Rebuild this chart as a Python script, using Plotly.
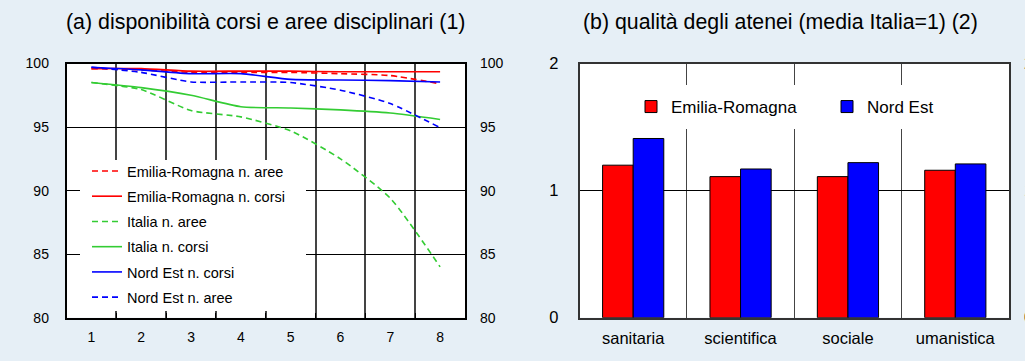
import plotly.graph_objects as go

# ---- data: chart (a)
steps = ["1", "2", "3", "4", "5", "6", "7", "8"]
er_aree = [99.6, 99.5, 99.3, 99.3, 99.3, 99.2, 99.05, 98.4]
er_corsi = [99.6, 99.6, 99.4, 99.4, 99.4, 99.35, 99.35, 99.35]
it_aree = [98.5, 97.95, 96.3, 95.8, 94.7, 92.5, 89.4, 84.0]
it_corsi = [98.5, 98.1, 97.5, 96.6, 96.5, 96.35, 96.1, 95.6]
ne_corsi = [99.7, 99.5, 99.2, 99.2, 98.75, 98.7, 98.65, 98.55]
ne_aree = [99.7, 99.3, 98.55, 98.55, 98.5, 97.9, 96.85, 94.95]

# ---- data: chart (b)
aree = ["sanitaria", "scientifica", "sociale", "umanistica"]
qual_er = [1.20, 1.11, 1.11, 1.16]
qual_ne = [1.41, 1.17, 1.22, 1.21]

yticks_a = [80, 85, 90, 95, 100]
yticks_b = [0, 1, 2]

RED = "#ff0000"
BLUE = "#0000ff"
GREEN = "#33cc33"
BG = "#e6eff6"
FONT = "Liberation Sans, Arial, sans-serif"
W, H = 1025, 361

def px_x(p):
    return p / W

def px_y(p):
    return 1 - p / H

fig = go.Figure()

series = [
    ("Emilia-Romagna n. aree", er_aree, RED, "6px,4px"),
    ("Emilia-Romagna n. corsi", er_corsi, RED, "solid"),
    ("Italia n. aree", it_aree, GREEN, "6px,4px"),
    ("Italia n. corsi", it_corsi, GREEN, "solid"),
    ("Nord Est n. corsi", ne_corsi, BLUE, "solid"),
    ("Nord Est n. aree", ne_aree, BLUE, "6px,4px"),
]
for i, (name, vals, col, dash) in enumerate(series):
    fig.add_trace(go.Scatter(
        x=steps, y=vals, name=name, mode="lines",
        line=dict(color=col, width=1.6, dash=dash, shape="spline", smoothing=0.6),
        xaxis="x", yaxis="y", legend="legend", legendgroup=f"g{i}",
    ))
# invisible trace to carry the right-hand axis of (a)
fig.add_trace(go.Scatter(x=steps, y=er_corsi, mode="lines", line=dict(width=0),
                         opacity=0, showlegend=False, hoverinfo="skip",
                         xaxis="x", yaxis="y2"))

fig.add_trace(go.Bar(x=aree, y=qual_er, name="Emilia-Romagna",
                     marker=dict(color=RED, line=dict(color="#000", width=1)),
                     xaxis="x3", yaxis="y3", legend="legend2"))
fig.add_trace(go.Bar(x=aree, y=qual_ne, name="Nord Est",
                     marker=dict(color=BLUE, line=dict(color="#000", width=1)),
                     xaxis="x3", yaxis="y3", legend="legend3"))
fig.add_trace(go.Scatter(x=aree, y=qual_er, mode="markers", marker=dict(opacity=0),
                         showlegend=False, hoverinfo="skip",
                         xaxis="x3", yaxis="y4"))

ydom = [px_y(317.7), px_y(63.5)]
tick_a = dict(family=FONT, size=14, color="#000")
tick_b = dict(family=FONT, size=16.5, color="#000")

def white_box(x0, x1, y0, y1):
    return dict(type="rect", xref="paper", yref="paper", layer="above",
                x0=px_x(x0), x1=px_x(x1), y0=px_y(y1), y1=px_y(y0),
                fillcolor="#ffffff", line=dict(width=0))

fig.update_layout(
    width=W, height=H,
    margin=dict(l=0, r=0, t=0, b=0, autoexpand=False),
    paper_bgcolor=BG, plot_bgcolor="#ffffff",
    font=dict(family=FONT, size=14, color="#000"),
    barmode="group", bargap=0.43, bargroupgap=0,
    showlegend=True,
    xaxis=dict(domain=[px_x(66.5), px_x(465)], type="category", range=[-0.5, 7.5],
               tickson="boundaries", ticks="inside", ticklen=5, tickcolor="#000",
               showgrid=True, gridcolor="#444", gridwidth=1.5,
               showline=True, linecolor="#000", linewidth=1.5, mirror=True,
               tickfont=tick_a, ticklabelstandoff=6, anchor="y", fixedrange=True),
    yaxis=dict(domain=ydom, range=[80, 100], tickvals=yticks_a,
               showgrid=True, gridcolor="#000", gridwidth=1,
               showline=True, linecolor="#000", linewidth=1.5, mirror=True,
               ticks="", tickfont=tick_a, ticklabelstandoff=13, anchor="x",
               zeroline=False),
    yaxis2=dict(domain=ydom, range=[80, 100], tickvals=yticks_a, overlaying="y",
                side="right", anchor="x", showgrid=False, ticks="",
                tickfont=tick_a, ticklabelstandoff=14, zeroline=False),
    xaxis3=dict(domain=[px_x(579.5), px_x(1009)], type="category", range=[-0.5, 3.5],
                tickson="boundaries", ticks="", showgrid=True, gridcolor="#444",
                gridwidth=1.2, showline=True, linecolor="#333", linewidth=1.5,
                mirror=True, tickfont=tick_b, ticklabelstandoff=5, anchor="y3"),
    yaxis3=dict(domain=ydom, range=[0, 2], tickvals=yticks_b,
                showgrid=True, gridcolor="#000", gridwidth=1,
                showline=True, linecolor="#333", linewidth=1.5, mirror=True,
                ticks="", tickfont=tick_b, ticklabelstandoff=16, anchor="x3",
                zeroline=False),
    yaxis4=dict(domain=ydom, range=[0, 2], tickvals=yticks_b, overlaying="y3",
                side="right", anchor="x3", showgrid=False, ticks="",
                tickfont=tick_b, ticklabelstandoff=14, zeroline=False),
    legend=dict(x=px_x(87), y=px_y(155), xanchor="left", yanchor="top",
                bgcolor="rgba(0,0,0,0)", borderwidth=0, tracegroupgap=3.4,
                traceorder="grouped", font=dict(family=FONT, size=14.5),
                itemclick=False),
    legend2=dict(x=px_x(631), y=px_y(89), xanchor="left", yanchor="top",
                 bgcolor="rgba(0,0,0,0)", borderwidth=0,
                 font=dict(family=FONT, size=17), itemclick=False),
    legend3=dict(x=px_x(827), y=px_y(89), xanchor="left", yanchor="top",
                 bgcolor="rgba(0,0,0,0)", borderwidth=0,
                 font=dict(family=FONT, size=17), itemclick=False),
    shapes=[white_box(80, 306, 160, 311), white_box(650, 912, 85, 129)],
    annotations=[
        dict(text="(a) disponibilità corsi e aree disciplinari (1)", x=px_x(265.5), y=px_y(22),
             xref="paper", yref="paper", showarrow=False, xanchor="center", yanchor="middle",
             font=dict(family=FONT, size=21.4, color="#000")),
        dict(text="(b) qualità degli atenei (media Italia=1) (2)", x=px_x(780), y=px_y(22),
             xref="paper", yref="paper", showarrow=False, xanchor="center", yanchor="middle",
             font=dict(family=FONT, size=21.3, color="#000")),
    ],
)

fig.write_html(
    "out.html",
    config={"displayModeBar": False},
    post_script="document.body.style.margin='0px';document.body.style.background='%s';" % BG,
)
